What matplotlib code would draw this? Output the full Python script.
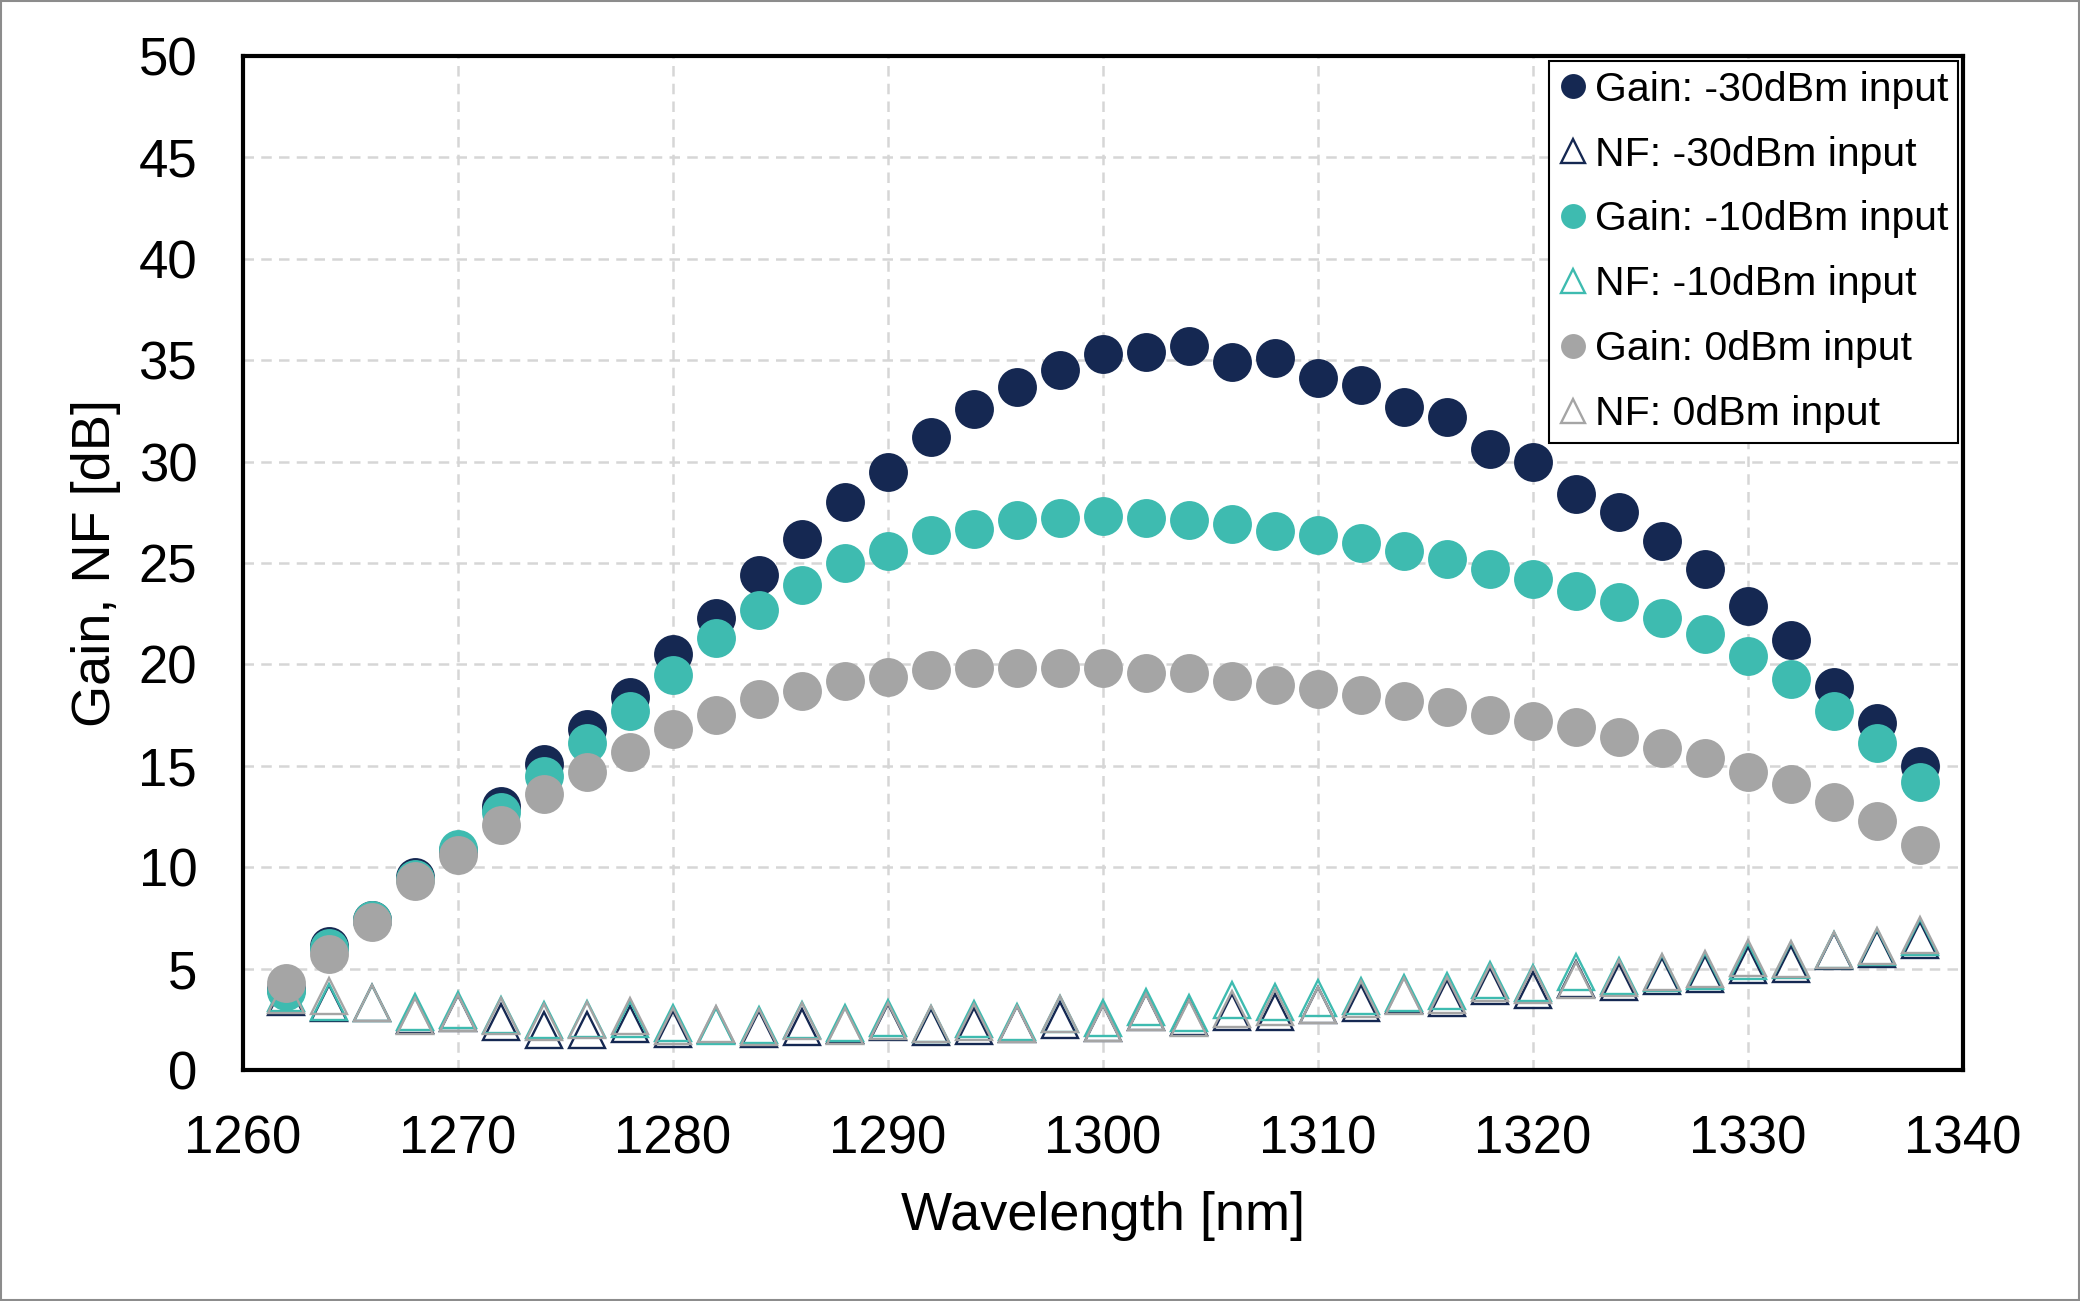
import matplotlib
matplotlib.use("Agg")
import matplotlib.pyplot as plt
from matplotlib.patches import Rectangle

plt.rcParams['font.family'] = ['Liberation Sans', 'DejaVu Sans']

wavelength = [1262, 1264, 1266, 1268, 1270, 1272, 1274, 1276, 1278, 1280,
              1282, 1284, 1286, 1288, 1290, 1292, 1294, 1296, 1298, 1300,
              1302, 1304, 1306, 1308, 1310, 1312, 1314, 1316, 1318, 1320,
              1322, 1324, 1326, 1328, 1330, 1332, 1334, 1336, 1338]

gain_m30 = [4.0, 6.1, 7.4, 9.5, 10.8, 13.0, 15.1, 16.8, 18.4, 20.5,
            22.3, 24.4, 26.2, 28.0, 29.5, 31.2, 32.6, 33.7, 34.5, 35.3,
            35.4, 35.7, 34.9, 35.1, 34.1, 33.8, 32.7, 32.2, 30.6, 30.0,
            28.4, 27.5, 26.1, 24.7, 22.9, 21.2, 18.9, 17.1, 15.0]
nf_m30 = [3.6, 3.3, 3.3, 2.7, 2.8, 2.35, 1.95, 1.95, 2.27, 2.0,
          2.2, 2.0, 2.1, 2.2, 2.35, 2.1, 2.15, 2.25, 2.47, 2.3,
          2.85, 2.6, 2.88, 2.88, 3.2, 3.3, 3.7, 3.54, 4.12, 3.96,
          4.5, 4.34, 4.62, 4.73, 5.2, 5.23, 5.86, 5.98, 6.39]
gain_m10 = [3.9, 6.0, 7.4, 9.4, 10.9, 12.7, 14.5, 16.1, 17.7, 19.5,
            21.3, 22.7, 23.9, 25.0, 25.6, 26.4, 26.7, 27.1, 27.2, 27.3,
            27.2, 27.1, 26.9, 26.6, 26.4, 26.0, 25.6, 25.2, 24.7, 24.2,
            23.6, 23.1, 22.3, 21.5, 20.4, 19.3, 17.7, 16.1, 14.2]
nf_m10 = [3.8, 3.33, 3.3, 2.86, 2.96, 2.7, 2.47, 2.5, 2.5, 2.3,
          2.15, 2.2, 2.45, 2.3, 2.58, 2.25, 2.5, 2.38, 2.75, 2.55,
          3.1, 2.83, 3.43, 3.34, 3.54, 3.66, 3.82, 3.92, 4.42, 4.29,
          4.83, 4.62, 4.8, 4.9, 5.36, 5.4, 5.9, 6.05, 6.56]
gain_0 = [4.3, 5.7, 7.3, 9.3, 10.6, 12.1, 13.6, 14.7, 15.7, 16.8,
          17.5, 18.3, 18.7, 19.2, 19.4, 19.7, 19.8, 19.8, 19.8, 19.8,
          19.6, 19.6, 19.2, 19.0, 18.8, 18.5, 18.2, 17.9, 17.5, 17.2,
          16.9, 16.4, 15.9, 15.4, 14.7, 14.1, 13.2, 12.3, 11.1]
nf_0 = [3.7, 3.63, 3.3, 2.68, 2.8, 2.65, 2.38, 2.48, 2.65, 2.15,
        2.27, 2.13, 2.4, 2.15, 2.42, 2.25, 2.38, 2.25, 2.75, 2.3,
        2.85, 2.58, 3.0, 3.1, 3.2, 3.49, 3.66, 3.7, 4.29, 4.2,
        4.45, 4.53, 4.82, 4.97, 5.5, 5.45, 5.94, 6.1, 6.66]

labels = ["Gain: -30dBm input", "NF: -30dBm input",
          "Gain: -10dBm input", "NF: -10dBm input",
          "Gain: 0dBm input", "NF: 0dBm input"]
colors = ["#152852", "#3EBBB0", "#A5A5A5"]

fig = plt.figure(figsize=(20.8, 13.01), dpi=100)
W, H = 2080, 1301
ax_l, ax_r, ax_t, ax_b = 243, 1963, 56, 1070
ax = fig.add_axes([ax_l / W, 1 - ax_b / H, (ax_r - ax_l) / W, (ax_b - ax_t) / H])

series = [(gain_m30, nf_m30), (gain_m10, nf_m10), (gain_0, nf_0)]
for i, (g, nf) in enumerate(series):
    c = colors[i]
    ax.plot(wavelength, g, linestyle='none', marker='o', markersize=28,
            markerfacecolor=c, markeredgecolor=c, markeredgewidth=0,
            label=labels[2 * i], zorder=3 + 2 * i)
    ax.plot(wavelength, nf, linestyle='none', marker='^', markersize=26.5,
            markerfacecolor='none', markeredgecolor=c, markeredgewidth=1.7,
            label=labels[2 * i + 1], zorder=4 + 2 * i)

ax.set_xlim(1260, 1340)
ax.set_ylim(0, 50)
ax.set_xticks([1260, 1270, 1280, 1290, 1300, 1310, 1320, 1330, 1340])
ax.set_yticks([0, 5, 10, 15, 20, 25, 30, 35, 40, 45, 50])
ax.tick_params(axis='both', length=0, labelsize=38, colors='black')
ax.tick_params(axis='y', pad=33)
ax.tick_params(axis='x', pad=32)

ax.grid(True, color='#D6D6D6', linewidth=1.8, linestyle=(0, (4.2, 2.9)), zorder=0)
ax.set_axisbelow(True)
for s in ax.spines.values():
    s.set_linewidth(3)
    s.set_color('black')
    s.set_zorder(10)

ax.set_xlabel("Wavelength [nm]", fontsize=39)
ax.set_ylabel("Gain, NF [dB]", fontsize=39)
ax.xaxis.label.set_va('center')
ax.yaxis.label.set_va('center')
ax.xaxis.set_label_coords(0.5, (ax_b - 1216) / (ax_b - ax_t))
ax.yaxis.set_label_coords((96 - ax_l) / (ax_r - ax_l), 0.5)

leg = ax.legend(loc='upper right', fontsize=29.5, markerscale=0.64,
                frameon=True, fancybox=False, framealpha=1, edgecolor='black',
                borderpad=0.24, labelspacing=0.655, handlelength=0.68,
                handletextpad=0.2, borderaxespad=0.12)
leg.get_frame().set_linewidth(1.5)
leg.set_zorder(20)

fig.patches.append(Rectangle((0.0005, 0.0008), 0.999, 0.9985, transform=fig.transFigure,
                             fill=False, edgecolor='#8C8C8C', linewidth=1.5))

fig.savefig("out.png", dpi=100)
